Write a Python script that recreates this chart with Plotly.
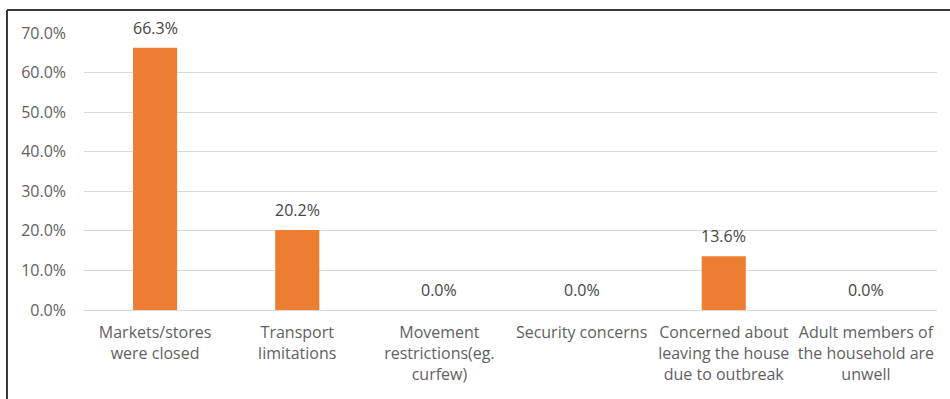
import plotly.graph_objects as go

categories = [
    "Markets/stores<br>were closed",
    "Transport<br>limitations",
    "Movement<br>restrictions(eg.<br>curfew)",
    "Security concerns",
    "Concerned about<br>leaving the house<br>due to outbreak",
    "Adult members of<br>the household are<br>unwell",
]
values = [66.3, 20.2, 0.0, 0.0, 13.6, 0.0]
y_ticks = [0, 10, 20, 30, 40, 50, 60, 70]
y_tick_labels = [f"{v:.1f}%" for v in y_ticks]

W, H = 950, 399
ML, MR, MT, MB = 84, 13, 33, 89
FONT = "'Open Sans', Lato, sans-serif"
BAR = "#ED7D31"
TXT = "#5f5f5f"

fig = go.Figure(
    go.Bar(
        x=categories,
        y=values,
        marker=dict(color=BAR, line=dict(width=0)),
        hoverinfo="skip",
    )
)

# value labels above each bar
for c, v in zip(categories, values):
    fig.add_annotation(
        x=c, y=v, text=f"{v:.1f}%", showarrow=False,
        yshift=20, font=dict(family=FONT, size=16, color="#454545"),
    )

# frame lines (top and left edge of the chart box)
pw, ph = W - ML - MR, H - MT - MB
x_left = (7 - ML) / pw
y_top = (H - MB - 10) / ph
x_right = (W - ML) / pw
y_bottom = -(MB) / ph
fig.add_shape(type="line", xref="paper", yref="paper",
              x0=x_left, x1=x_right, y0=y_top, y1=y_top,
              line=dict(color="#3a3a3a", width=2))
fig.add_shape(type="line", xref="paper", yref="paper",
              x0=x_left, x1=x_left, y0=y_bottom, y1=y_top,
              line=dict(color="#3a3a3a", width=2))

fig.update_layout(
    width=W, height=H,
    margin=dict(l=ML, r=MR, t=MT, b=MB),
    paper_bgcolor="white", plot_bgcolor="white",
    bargap=0.69,
    showlegend=False,
    font=dict(family=FONT, size=16, color=TXT),
    xaxis=dict(
        showgrid=False, showline=False, ticks="",
        tickfont=dict(family=FONT, size=16, color=TXT),
        ticklabelstandoff=11,
        tickangle=0,
    ),
    yaxis=dict(
        range=[0, 70],
        tickvals=y_ticks, ticktext=y_tick_labels,
        showgrid=True, gridcolor="#d9d9d9", gridwidth=1,
        zeroline=True, zerolinecolor="#d9d9d9", zerolinewidth=1,
        showline=False, ticks="",
        tickfont=dict(family=FONT, size=16, color=TXT),
        ticklabelstandoff=17,
    ),
)

fig.write_html("out.html")
